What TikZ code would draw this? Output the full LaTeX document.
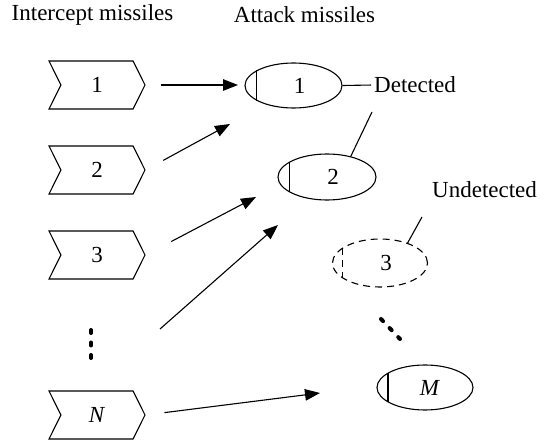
\documentclass[tikz,border=0pt]{standalone}
\usepackage{fontspec}
\setmainfont{Liberation Serif}
\usepackage{tikz}
\usetikzlibrary{positioning}
\usetikzlibrary{arrows.meta}
\usetikzlibrary{shapes.symbols}
\usetikzlibrary{shapes.geometric}
\tikzset{basic/.style={draw,line width=1.1pt,inner sep=0pt,font=\fontsize{23}{27}\selectfont}}
\tikzset{launcher/.style={basic,signal,signal to=east,signal from=west,signal pointer angle=127,minimum width=96pt,minimum height=48pt}}
\tikzset{target/.style={basic,ellipse,minimum width=97pt,minimum height=45pt}}
\tikzset{hidden/.style={target,dash pattern=on 7pt off 5pt}}
\tikzset{caption/.style={font=\fontsize{23}{27}\selectfont,inner sep=1pt}}
\tikzset{shot/.style={line width=1.1pt,-{Triangle[length=15pt,width=11.5pt]}}}
\tikzset{tag/.style={line width=1.1pt}}
\tikzset{more/.style={line width=4pt,line cap=round,dash pattern=on 3pt off 9.5pt}}

\begin{document}
\begin{tikzpicture}[x=1pt,y=-1pt]
                \useasboundingbox (0,0) rectangle (550,441);
                \node[caption] (hl) at (92.5,15) {Intercept missiles};
                \node[caption] (hr) at (304.5,15) {Attack missiles};
                % intercept missiles
                \node[launcher] (b1) at (97,85) {1};
                \node[launcher,below of=b1,node distance=85pt] (b2) {2};
                \node[launcher,below of=b2,node distance=85pt] (b3) {3};
                \node[launcher,below of=b3,node distance=160pt] (bN) {\textit{N}};
                \coordinate (v1) at (91,330);
                \coordinate (v2) at (91,359);
                    \draw[more] (v1) -- (v2);
                % attack missiles
                \node[target,label={[caption,xshift=6pt]center:1}] (e1) at (293.5,85.5) {};
                \node[target,minimum width=98pt,minimum height=46pt,label={[caption,xshift=6pt]center:2}] (e2) at (327,177) {};
                \node[hidden,minimum width=95pt,minimum height=48pt,label={[caption,xshift=6pt]center:3}] (e3) at (380,263) {};
                \node[target,minimum width=96pt,label={[caption,xshift=5pt]center:\textit{M}}] (eM) at (425,387.5) {};
                \foreach \e in {e1,e2,eM}
                    \draw[tag] (\e.158) -- (\e.202);
                \draw[tag,dash pattern=on 7pt off 5pt] (e3.158) -- (e3.202);
                \coordinate (m1) at (381,319);
                \coordinate (m2) at (400,339);
                    \draw[more] (m1) -- (m2);
                % labels
                \node[caption,anchor=west] (det) at (373,85) {Detected};
                    \draw[tag,shorten >=2pt] (e1.east) -- (det.west);
                \coordinate (dtick) at (372,112);
                    \draw[tag] (dtick) -- (e2.41);
                \node[caption,anchor=west] (und) at (431,190) {Undetected};
                \coordinate (utick) at (422,217);
                    \draw[tag] (utick) -- (e3.36);
                % shots
                \coordinate (h1) at (238,85);
                \coordinate (h2) at (230,124);
                \coordinate (h3) at (256,197);
                \coordinate (t4) at (160,329);
                \coordinate (h4) at (278,225);
                \coordinate (hN) at (320,393);
                    \draw[shot,shorten <=15pt] (b1.east) -- (h1);
                    \draw[shot,shorten <=20pt] (b2.east) -- (h2);
                    \draw[shot,shorten <=29pt] (b3.east) -- (h3);
                    \draw[shot] (t4) -- (h4);
                    \draw[shot,shorten <=19pt] (bN.east) -- (hN);
            \end{tikzpicture}
\end{document}
